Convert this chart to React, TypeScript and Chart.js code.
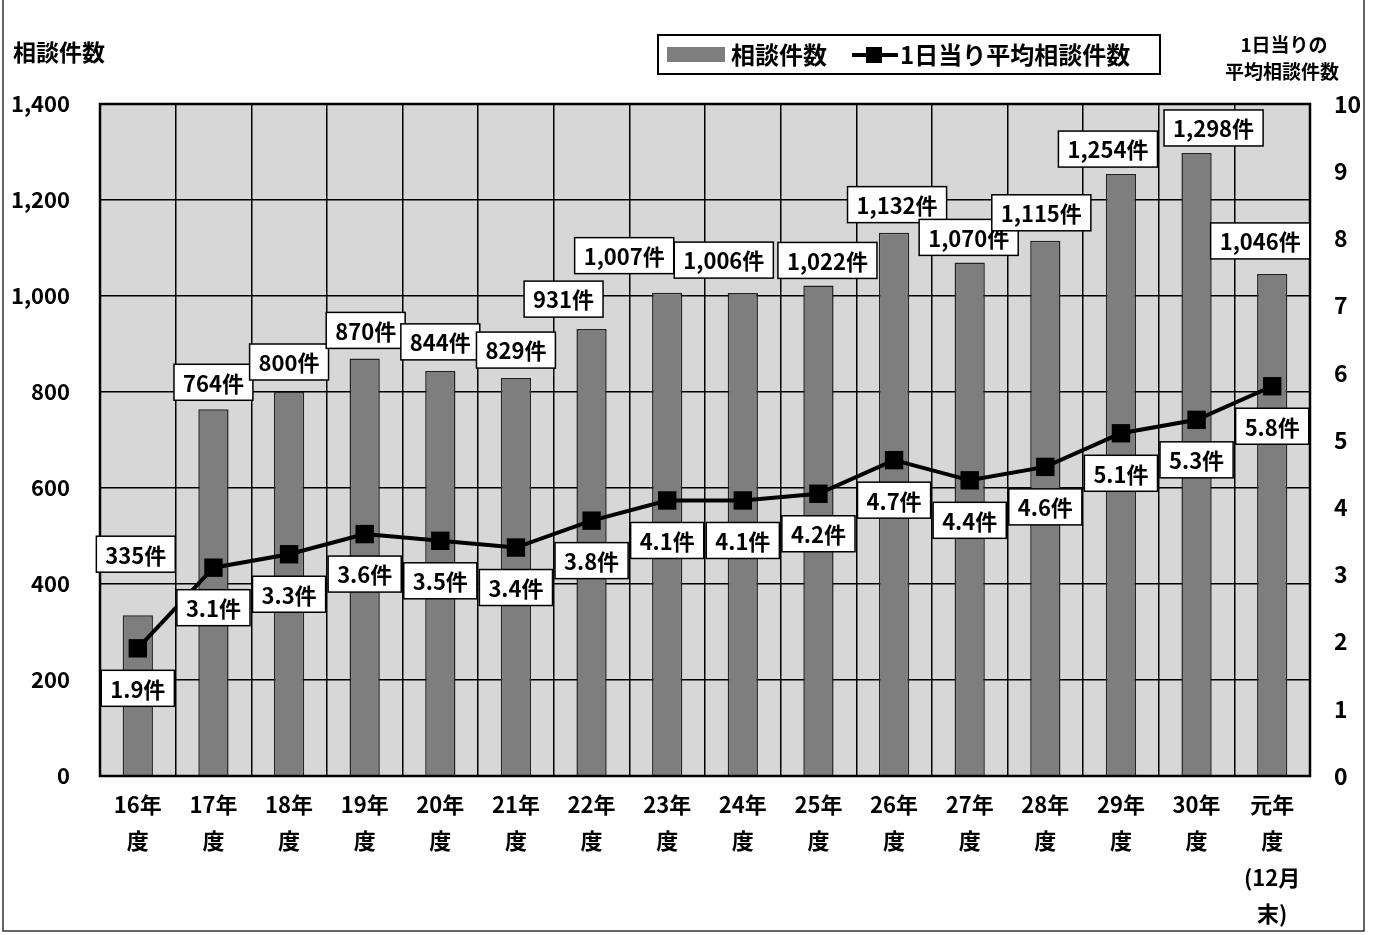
import React, { useEffect, useRef } from "react";
import { Chart, registerables } from "chart.js";

Chart.register(...registerables);

const FONT = "'Noto Sans CJK JP', 'Noto Sans', sans-serif";

const categories: string[][] = [
  ["16年", "度"],
  ["17年", "度"],
  ["18年", "度"],
  ["19年", "度"],
  ["20年", "度"],
  ["21年", "度"],
  ["22年", "度"],
  ["23年", "度"],
  ["24年", "度"],
  ["25年", "度"],
  ["26年", "度"],
  ["27年", "度"],
  ["28年", "度"],
  ["29年", "度"],
  ["30年", "度"],
  ["元年", "度", "(12月", "末)"],
];

const consultCounts = [335, 764, 800, 870, 844, 829, 931, 1007, 1006, 1022, 1132, 1070, 1115, 1254, 1298, 1046];
const dailyAverages = [1.9, 3.1, 3.3, 3.6, 3.5, 3.4, 3.8, 4.1, 4.1, 4.2, 4.7, 4.4, 4.6, 5.1, 5.3, 5.8];

const leftAxisMax = 1400;
const leftAxisStep = 200;
const rightAxisMax = 10;
const rightAxisStep = 1;

const barSeriesName = "相談件数";
const lineSeriesName = "1日当り平均相談件数";
const leftAxisTitle = "相談件数";
const rightAxisTitle = ["1日当りの", "平均相談件数"];

// label box offsets (px) relative to bar top
const barLabelDx = [-2, 0, 0, 1, 0, 0, -28, -43, -19, 9, 3, -1, -4, -13, 17, -12];
const barLabelDy = [-61, -27, -30, -28, -29, -28, -30, -37, -33, -25, -28, -25, -28, -25, -25, -33];
const lineLabelDy = 40;

const BAR_COLOR = "#7e7e7e";
const PLOT_BG = "#d7d7d7";

const fmt = (n: number) => n.toLocaleString("en-US");

const decorPlugin = {
  id: "decor",
  beforeDraw(chart: any) {
    const { ctx, chartArea } = chart;
    ctx.save();
    ctx.fillStyle = "#ffffff";
    ctx.fillRect(0, 0, chart.width, chart.height);
    ctx.fillStyle = PLOT_BG;
    ctx.fillRect(chartArea.left, chartArea.top, chartArea.right - chartArea.left, chartArea.bottom - chartArea.top);
    ctx.restore();
  },
  afterDatasetsDraw(chart: any) {
    const { ctx, chartArea } = chart;
    ctx.save();
    ctx.strokeStyle = "#000";
    ctx.lineWidth = 2.5;
    ctx.strokeRect(chartArea.left, chartArea.top, chartArea.right - chartArea.left, chartArea.bottom - chartArea.top);

    ctx.font = `bold 22px ${FONT}`;
    ctx.textAlign = "center";
    ctx.textBaseline = "middle";
    const drawBox = (text: string, cx: number, cy: number) => {
      const w = ctx.measureText(text).width + 18;
      const h = 36;
      ctx.fillStyle = "#ffffff";
      ctx.fillRect(cx - w / 2, cy - h / 2, w, h);
      ctx.strokeStyle = "#000";
      ctx.lineWidth = 1.5;
      ctx.strokeRect(cx - w / 2, cy - h / 2, w, h);
      ctx.fillStyle = "#000";
      ctx.fillText(text, cx, cy + 1);
    };
    const barMeta = chart.getDatasetMeta(0);
    barMeta.data.forEach((el: any, i: number) => {
      drawBox(fmt(consultCounts[i]) + "件", el.x + barLabelDx[i], el.y + barLabelDy[i]);
    });
    const lineMeta = chart.getDatasetMeta(1);
    lineMeta.data.forEach((el: any, i: number) => {
      drawBox(dailyAverages[i].toFixed(1) + "件", el.x, el.y + lineLabelDy);
    });
    ctx.restore();
  },
  afterDraw(chart: any) {
    const { ctx } = chart;
    ctx.save();
    // outer frame
    ctx.strokeStyle = "#333";
    ctx.lineWidth = 1.5;
    ctx.beginPath();
    ctx.moveTo(3, 0);
    ctx.lineTo(3, 931);
    ctx.lineTo(1364, 931);
    ctx.lineTo(1364, 0);
    ctx.stroke();

    // axis titles
    ctx.fillStyle = "#000";
    ctx.font = `bold 23px ${FONT}`;
    ctx.textAlign = "left";
    ctx.textBaseline = "middle";
    ctx.fillText(leftAxisTitle, 13, 52);
    ctx.font = `bold 19px ${FONT}`;
    ctx.textAlign = "center";
    ctx.fillText(rightAxisTitle[0], 1284, 45);
    ctx.fillText(rightAxisTitle[1], 1282, 72);

    // legend
    ctx.lineWidth = 2;
    ctx.strokeStyle = "#000";
    ctx.fillStyle = "#fff";
    ctx.fillRect(658, 35, 502, 39);
    ctx.strokeRect(658, 35, 502, 39);
    ctx.fillStyle = BAR_COLOR;
    ctx.fillRect(667, 47, 58, 15);
    ctx.fillStyle = "#000";
    ctx.font = `bold 24px ${FONT}`;
    ctx.textAlign = "left";
    ctx.fillText(barSeriesName, 731, 55);
    ctx.lineWidth = 4;
    ctx.beginPath();
    ctx.moveTo(852, 55);
    ctx.lineTo(898, 55);
    ctx.stroke();
    ctx.fillRect(866, 47, 16, 16);
    ctx.fillText(lineSeriesName, 900, 55);
    ctx.restore();
  },
};

export default function App() {
  const canvasRef = useRef<HTMLCanvasElement | null>(null);

  useEffect(() => {
    if (!canvasRef.current) return;
    const chart = new Chart(canvasRef.current, {
      type: "bar",
      data: {
        labels: categories,
        datasets: [
          {
            type: "bar",
            label: barSeriesName,
            data: consultCounts,
            backgroundColor: BAR_COLOR,
            borderColor: "#222",
            borderWidth: 1.5,
            barPercentage: 0.4,
            categoryPercentage: 1,
            yAxisID: "y",
            order: 2,
          },
          {
            type: "line",
            label: lineSeriesName,
            data: dailyAverages,
            borderColor: "#000",
            backgroundColor: "#000",
            borderWidth: 4,
            pointStyle: "rect",
            pointRadius: 13,
            pointBorderWidth: 0,
            tension: 0,
            yAxisID: "y1",
            order: 1,
          },
        ],
      },
      options: {
        responsive: false,
        animation: false,
        devicePixelRatio: 1,
        layout: { padding: { top: 104, left: 0, right: 0, bottom: 0 } },
        plugins: {
          legend: { display: false },
          tooltip: { enabled: false },
          title: { display: false },
        },
        scales: {
          x: {
            offset: true,
            grid: { display: true, offset: true, color: "#000", lineWidth: 1.5, drawTicks: false },
            border: { display: false },
            ticks: {
              color: "#000",
              font: { family: FONT, size: 22, weight: "bold", lineHeight: 1.64 },
              padding: 11,
              maxRotation: 0,
              autoSkip: false,
            },
            afterFit(scale: any) {
              scale.height = 159;
            },
          },
          y: {
            position: "left",
            min: 0,
            max: leftAxisMax,
            ticks: {
              stepSize: leftAxisStep,
              color: "#000",
              font: { family: FONT, size: 22, weight: "bold" },
              padding: 30,
              callback: (v: any) => fmt(Number(v)),
            },
            grid: { color: "#000", lineWidth: 1.5, drawTicks: false },
            border: { display: false },
            afterFit(scale: any) {
              scale.width = 100;
            },
          },
          y1: {
            position: "right",
            min: 0,
            max: rightAxisMax,
            ticks: {
              stepSize: rightAxisStep,
              color: "#000",
              font: { family: FONT, size: 23, weight: "bold" },
              padding: 24,
            },
            grid: { display: false, drawTicks: false },
            border: { display: false },
            afterFit(scale: any) {
              scale.width = 65;
            },
          },
        },
      },
      plugins: [decorPlugin],
    } as any);
    return () => chart.destroy();
  }, []);

  return (
    <div style={{ position: "absolute", left: 0, top: 0, width: 1375, height: 935, background: "#fff" }}>
      <canvas ref={canvasRef} width={1375} height={935} style={{ width: 1375, height: 935 }} />
    </div>
  );
}
